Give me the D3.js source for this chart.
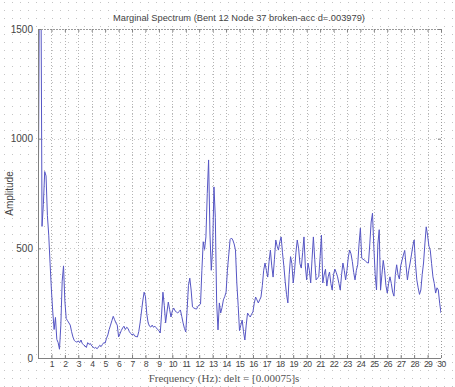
<!DOCTYPE html>
<meta charset="utf-8">
<head>
<script src="https://d3js.org/d3.v7.min.js"></script>
<style>
  body { margin: 0; background: #fff; }
  svg { display: block; }
</style>
</head>
<body>
<div id="my_dataviz"></div>
<script>

// spectrum sampled every 0.1 Hz, from 0 to 30 Hz
var freqStep = 0.1;
var amplitude = [
  400, 1700, 2000, 600, 700, 850, 830, 650, 560, 430,
  310, 210, 130, 185, 85, 70, 40, 150, 350, 420,
  260, 180, 170, 160, 150, 120, 96, 80, 75, 72,
  78, 70, 82, 65, 60, 55, 48, 70, 62, 66,
  55, 50, 45, 48, 42, 50, 58, 52, 62, 70,
  68, 90, 105, 130, 150, 170, 190, 175, 160, 150,
  96, 110, 125, 137, 145, 130, 140, 135, 120, 112,
  105, 110, 100, 98, 96, 120, 160, 210, 260, 300,
  280, 200, 160, 145, 141, 150, 140, 145, 138, 130,
  125, 114, 200, 300, 240, 160, 210, 255, 220, 187,
  215, 228, 215, 210, 205, 212, 219, 190, 160, 135,
  119, 220, 330, 364, 310, 233, 228, 225, 223, 235,
  242, 246, 400, 530, 495, 552, 750, 903, 570, 400,
  500, 780, 640, 250, 128, 251, 205, 230, 265, 280,
  300, 400, 470, 540, 547, 538, 520, 492, 342, 240,
  125, 150, 173, 120, 82, 150, 205, 195, 187, 200,
  210, 250, 278, 265, 251, 265, 278, 330, 400, 433,
  400, 369, 440, 492, 420, 369, 450, 538, 510, 492,
  530, 552, 480, 420, 350, 290, 251, 380, 462, 430,
  342, 400, 480, 538, 500, 430, 410, 480, 552, 420,
  356, 433, 400, 342, 450, 552, 450, 356, 365, 370,
  460, 560, 342, 380, 405, 328, 370, 392, 340, 310,
  380, 405, 390, 370, 340, 310, 380, 433, 400, 356,
  400, 460, 492, 475, 440, 390, 356, 400, 425, 520,
  592, 455, 450, 447, 440, 435, 433, 520, 620, 660,
  506, 380, 310, 520, 585, 310, 380, 445, 400, 330,
  296, 340, 370, 340, 300, 282, 380, 425, 380, 360,
  420, 445, 470, 490, 420, 356, 400, 433, 470, 510,
  538, 430, 356, 320, 290, 310, 380, 433, 520, 598,
  560, 510, 492, 430, 370, 340, 296, 320, 310, 250,
  205
];
var xTicks = d3.range(1, 31);
var yTicks = [0, 500, 1000, 1500];
var titleText = "Marginal Spectrum (Bent 12 Node 37 broken-acc d=.003979)";
var xLabelText = "Frequency (Hz): delt = [0.00075]s";
var yLabelText = "Amplitude";

var data = amplitude.map(function(a, i) { return { f: i * freqStep, a: a }; });

var W = 455, H = 387;
var margin = {top: 29, right: 14, bottom: 29, left: 38},
    width = W - margin.left - margin.right,
    height = H - margin.top - margin.bottom;

var root = d3.select("#my_dataviz")
  .append("svg")
    .attr("width", W)
    .attr("height", H);

// dotted background (the dithered grey of the original)
var defs = root.append("defs");
defs.append("pattern")
    .attr("id", "dots")
    .attr("width", 8).attr("height", 8)
    .attr("patternUnits", "userSpaceOnUse")
  .append("rect")
    .attr("x", 4).attr("y", 2).attr("width", 1).attr("height", 1)
    .attr("fill", "#c4c4c4");
root.append("rect").attr("width", W).attr("height", H).attr("fill", "#fff");
root.append("rect").attr("width", W).attr("height", H).attr("fill", "url(#dots)");

defs.append("clipPath").attr("id", "clip")
  .append("rect").attr("width", width).attr("height", height);

var svg = root.append("g")
    .attr("transform", "translate(" + margin.left + "," + margin.top + ")");

var x = d3.scaleLinear().domain([0, 30]).range([0, width]);
var y = d3.scaleLinear().domain([0, 1500]).range([height, 0]);

// grid
svg.append("g").selectAll("line")
  .data(xTicks.slice(0, -1))
  .join("line")
    .attr("x1", function(d) { return Math.round(x(d)) + 0.5; })
    .attr("x2", function(d) { return Math.round(x(d)) + 0.5; })
    .attr("y1", 0).attr("y2", height)
    .attr("stroke", "#b4b4b4")
    .attr("stroke-dasharray", "1,2");
svg.append("g").selectAll("line")
  .data([500, 1000])
  .join("line")
    .attr("x1", 0).attr("x2", width)
    .attr("y1", function(d) { return Math.round(y(d)) + 0.5; })
    .attr("y2", function(d) { return Math.round(y(d)) + 0.5; })
    .attr("stroke", "#c8c8c8")
    .attr("stroke-dasharray", "1,3");

// the spectrum
svg.append("path")
  .datum(data)
    .attr("clip-path", "url(#clip)")
    .attr("fill", "none")
    .attr("stroke", "#5656c4")
    .attr("stroke-width", 1)
    .attr("d", d3.line()
      .x(function(d) { return x(d.f); })
      .y(function(d) { return y(d.a); }));

// box: solid left/bottom, dotted top/right
svg.append("line").attr("x1", 0.5).attr("x2", 0.5).attr("y1", 0).attr("y2", height + 0.5)
  .attr("stroke", "#808080");
svg.append("line").attr("x1", 0).attr("x2", width).attr("y1", height + 0.5).attr("y2", height + 0.5)
  .attr("stroke", "#808080");
svg.append("line").attr("x1", 0).attr("x2", width).attr("y1", 0.5).attr("y2", 0.5)
  .attr("stroke", "#9a9a9a").attr("stroke-dasharray", "2,1");
svg.append("line").attr("x1", width + 0.5).attr("x2", width + 0.5).attr("y1", 0).attr("y2", height)
  .attr("stroke", "#9a9a9a").attr("stroke-dasharray", "1,2");

// axes
var xAxis = svg.append("g")
    .attr("transform", "translate(0," + height + ")")
    .call(d3.axisBottom(x).tickValues(xTicks).tickSize(-3).tickPadding(3).tickSizeOuter(0));
var xTop = svg.append("g")
    .call(d3.axisTop(x).tickValues(xTicks).tickSize(-3).tickFormat("").tickSizeOuter(0));
var yAxis = svg.append("g")
    .call(d3.axisLeft(y).tickValues(yTicks).tickFormat(d3.format("d")).tickSize(-3).tickPadding(5).tickSizeOuter(0));
var yRight = svg.append("g")
    .attr("transform", "translate(" + width + ",0)")
    .call(d3.axisRight(y).tickValues(yTicks).tickSize(-3).tickFormat("").tickSizeOuter(0));

[xAxis, xTop, yAxis, yRight].forEach(function(g) {
  g.select(".domain").remove();
  g.selectAll("line").attr("stroke", "#808080");
  g.selectAll("text")
    .attr("fill", "#444")
    .style("font-family", "'Liberation Sans', Arial, sans-serif")
    .style("font-size", "10px");
});
xAxis.selectAll("text")
  .style("font-size", "8.6px")
  .style("letter-spacing", "-0.6px");

// labels
root.append("text")
    .attr("x", 239).attr("y", 21)
    .attr("text-anchor", "middle")
    .attr("fill", "#444")
    .style("font-family", "'Liberation Sans', Arial, sans-serif")
    .style("font-size", "9.3px")
    .text(titleText);

root.append("text")
    .attr("x", 224).attr("y", 382)
    .attr("text-anchor", "middle")
    .attr("fill", "#555")
    .style("font-family", "'Liberation Serif', 'Times New Roman', serif")
    .style("font-size", "11px")
    .text(xLabelText);

root.append("text")
    .attr("transform", "translate(13," + (margin.top + height / 2) + ") rotate(-90)")
    .attr("text-anchor", "middle")
    .attr("fill", "#444")
    .style("font-family", "'Liberation Sans', Arial, sans-serif")
    .style("font-size", "10px")
    .text(yLabelText);

</script>
</body>
</html>
